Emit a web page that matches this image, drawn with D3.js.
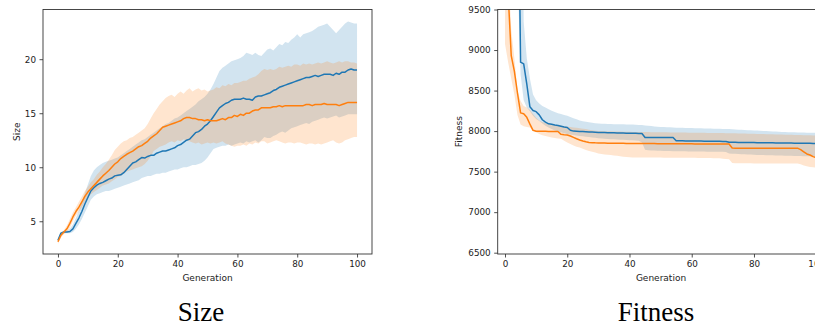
<!DOCTYPE html>
<html><head><meta charset="utf-8">
<script src="https://cdn.jsdelivr.net/npm/d3@7"></script>
<style>
html,body{margin:0;padding:0;background:#fff;}
svg{display:block;}
</style></head>
<body>
<svg id="chart" width="815" height="326"></svg>
<script>
// ---------- DATA ----------
const generations = d3.range(0, 101);
const xTicks = [0, 20, 40, 60, 80, 100];
const sizeYTicks = [5, 10, 15, 20];
const fitYTicks = [6500, 7000, 7500, 8000, 8500, 9000, 9500];
const panelTitles = ["Size", "Fitness"];
const xLabel = "Generation";
const yLabels = ["Size", "Fitness"];

// Size panel — blue series
const sizeBlueMean = [
3.25,3.9,4.0,4.0,4.05,4.3,4.8,5.3,5.9,6.6,
7.2,7.8,8.1,8.35,8.5,8.6,8.75,8.9,9.0,9.2,
9.25,9.3,9.5,9.8,10.1,10.4,10.5,10.7,10.9,10.85,
11.0,11.1,11.1,11.3,11.4,11.5,11.5,11.6,11.7,11.8,
12.0,12.1,12.3,12.5,12.6,12.9,13.2,13.3,13.5,13.8,
14.0,14.3,14.7,15.1,15.5,15.7,15.9,16.0,16.2,16.3,
16.3,16.3,16.4,16.3,16.3,16.2,16.5,16.6,16.6,16.7,
16.8,16.9,17.1,17.2,17.4,17.5,17.6,17.7,17.8,17.9,
18.0,18.1,18.2,18.3,18.3,18.4,18.5,18.4,18.5,18.6,
18.6,18.6,18.5,18.7,18.6,18.8,18.8,19.0,19.1,19.0,
19.0];
const sizeBlueHi = [
3.4,4.0,4.1,4.15,4.3,4.7,5.3,6.0,6.8,7.6,
8.4,9.2,9.7,10.0,10.2,10.4,10.5,10.6,10.7,10.8,
10.9,11.1,11.3,11.5,11.7,11.9,12.1,12.3,12.5,12.6,
12.8,13.0,13.2,13.4,13.6,13.8,14.0,14.1,14.3,14.5,
14.6,14.8,15.0,15.2,15.4,15.6,15.8,16.1,16.3,16.5,
16.8,17.2,17.7,18.3,18.9,19.2,19.4,19.6,19.8,19.9,
20.0,20.1,20.3,20.6,20.5,20.4,20.6,20.4,20.3,20.6,
20.9,21.0,20.8,21.1,21.4,21.3,21.6,21.5,21.8,22.0,
22.3,22.0,22.3,22.4,22.5,22.6,22.8,23.0,23.1,23.2,
23.3,23.0,22.7,22.4,22.7,23.0,23.3,23.5,23.4,23.3,
23.3];
const sizeBlueLo = [
3.1,3.8,3.9,3.9,3.9,4.0,4.3,4.7,5.2,5.8,
6.4,7.0,7.3,7.5,7.6,7.7,7.8,7.8,7.9,8.0,
8.1,8.2,8.3,8.4,8.5,8.6,8.7,8.8,9.0,9.1,
9.2,9.2,9.3,9.4,9.4,9.5,9.5,9.6,9.7,9.8,
9.8,9.9,10.0,10.0,10.1,10.2,10.2,10.3,10.4,10.6,
10.9,11.3,11.7,11.8,11.9,12.0,12.0,12.1,12.0,12.1,
12.2,12.3,12.2,12.4,12.3,12.4,12.5,12.3,12.5,12.8,
12.7,12.7,12.9,13.0,13.2,13.3,13.2,13.4,13.6,13.7,
13.8,13.9,14.0,14.1,14.0,14.2,14.3,14.4,14.5,14.6,
14.5,14.6,14.7,14.8,14.6,14.7,14.8,14.9,14.9,14.9,
14.9];

// Size panel — orange series
const sizeOrangeMean = [
3.1,3.7,4.0,4.3,4.8,5.4,5.9,6.3,6.8,7.3,
7.7,8.0,8.3,8.6,8.9,9.2,9.45,9.7,10.0,10.3,
10.5,10.8,11.0,11.2,11.35,11.5,11.7,11.9,12.0,12.2,
12.4,12.7,12.9,13.1,13.4,13.7,13.8,13.9,14.0,14.1,
14.2,14.3,14.5,14.6,14.6,14.5,14.5,14.4,14.4,14.3,
14.4,14.3,14.3,14.3,14.4,14.5,14.4,14.6,14.6,14.8,
14.7,14.9,14.8,15.0,15.0,15.2,15.3,15.3,15.5,15.5,
15.5,15.5,15.6,15.6,15.7,15.6,15.7,15.7,15.7,15.7,
15.7,15.7,15.7,15.8,15.8,15.7,15.8,15.8,15.8,15.9,
15.8,15.8,15.8,15.8,15.7,15.8,15.9,16.0,16.0,16.0,
16.0];
const sizeOrangeHi = [
3.3,3.9,4.2,4.6,5.2,5.8,6.3,6.8,7.3,7.8,
8.2,8.6,8.9,9.3,9.6,10.0,10.3,10.7,11.1,11.6,
11.9,12.2,12.4,12.5,12.7,12.8,13.0,13.2,13.4,13.6,
14.0,14.5,15.0,15.4,15.8,16.1,16.4,16.6,16.7,16.5,
16.8,17.0,16.8,17.1,17.3,17.0,17.2,17.3,17.1,17.2,
17.0,17.1,17.2,17.4,17.3,17.6,17.5,17.7,17.6,17.8,
17.8,17.9,18.0,18.0,18.2,18.3,18.4,18.6,18.9,19.1,
19.0,19.1,19.0,19.1,19.3,19.2,19.3,19.4,19.3,19.5,
19.5,19.4,19.6,19.5,19.6,19.5,19.6,19.7,19.6,19.7,
19.8,19.7,19.6,19.7,19.8,19.7,19.8,19.8,19.7,19.7,
19.6];
const sizeOrangeLo = [
2.9,3.5,3.8,4.0,4.4,5.0,5.5,5.9,6.3,6.8,
7.2,7.5,7.7,7.9,8.1,8.3,8.4,8.5,8.7,8.9,
9.1,9.2,9.4,9.6,9.7,9.8,9.9,10.0,10.1,10.3,
10.6,11.0,11.5,11.7,11.9,12.0,12.1,12.3,12.4,12.3,
12.5,12.4,12.6,12.5,12.4,12.3,12.2,12.3,12.1,12.2,
12.3,12.2,12.3,12.2,12.3,12.4,12.2,12.1,12.0,11.9,
12.0,12.0,12.1,12.0,12.2,12.1,12.3,12.2,12.4,12.4,
12.2,12.3,12.4,12.5,12.4,12.3,12.2,12.3,12.3,12.2,
12.3,12.3,12.2,12.1,12.2,12.2,12.1,12.2,12.1,12.2,
12.3,12.4,12.5,12.3,12.2,12.3,12.5,12.6,12.7,12.8,
12.8];

// Fitness panel — blue series
const fitBlueMean = [
13000,13000,12800,12500,12000,8850,8830,8580,8300,8255,
8240,8200,8140,8110,8090,8085,8075,8070,8060,8050,
8045,8010,8000,7998,7996,7994,7992,7990,7988,7986,
7984,7983,7982,7981,7980,7979,7978,7977,7976,7975,
7974,7973,7972,7971,7970,7922,7920,7920,7920,7920,
7920,7920,7920,7920,7920,7882,7880,7880,7879,7879,
7878,7878,7877,7877,7876,7876,7875,7875,7874,7874,
7873,7872,7862,7861,7861,7860,7860,7859,7859,7858,
7858,7857,7857,7856,7856,7855,7855,7854,7854,7853,
7853,7852,7852,7851,7851,7850,7850,7849,7849,7848,
7848];
const fitBlueHi = [
13000,13000,13000,13000,13000,13000,9350,8900,8650,8450,
8380,8340,8310,8290,8270,8250,8235,8220,8210,8200,
8190,8175,8160,8145,8130,8122,8115,8110,8104,8098,
8094,8092,8090,8088,8087,8086,8085,8084,8083,8082,
8082,8080,8078,8076,8074,8070,8066,8062,8058,8055,
8052,8050,8048,8046,8044,8042,8041,8040,8039,8038,
8037,8036,8035,8034,8033,8032,8031,8030,8029,8028,
8027,8026,8025,8022,8020,8018,8016,8014,8012,8010,
8008,8006,8004,8002,8000,7998,7996,7994,7992,7990,
7988,7987,7986,7985,7984,7983,7982,7981,7980,7979,
7978];
const fitBlueLo = [
12500,12000,11500,11000,10000,8700,8380,8290,8245,8190,
8150,8125,8095,8065,8045,8025,8008,7995,7985,7975,
7965,7958,7952,7946,7940,7935,7930,7926,7922,7918,
7912,7908,7905,7902,7900,7898,7896,7894,7892,7890,
7888,7886,7884,7882,7860,7770,7765,7762,7760,7758,
7757,7756,7755,7754,7753,7752,7751,7750,7750,7749,
7749,7748,7748,7747,7747,7746,7746,7745,7745,7744,
7744,7743,7725,7722,7720,7718,7716,7714,7712,7710,
7708,7706,7705,7704,7703,7702,7701,7700,7699,7698,
7697,7696,7695,7694,7693,7692,7691,7690,7689,7688,
7687];

// Fitness panel — orange series
const fitOrangeMean = [
11000,9700,8930,8740,8470,8225,8215,8170,8086,8010,
7998,7998,7997,7997,7996,7996,7995,7995,7960,7955,
7952,7940,7922,7905,7890,7878,7868,7860,7857,7855,
7854,7853,7852,7851,7851,7850,7850,7849,7849,7848,
7848,7848,7847,7847,7847,7847,7846,7846,7846,7845,
7845,7845,7845,7844,7844,7844,7844,7843,7843,7843,
7843,7842,7842,7842,7842,7841,7841,7841,7841,7840,
7840,7840,7840,7792,7790,7790,7790,7790,7790,7790,
7790,7790,7790,7790,7790,7790,7790,7790,7790,7790,
7790,7790,7790,7790,7790,7772,7745,7718,7705,7685,
7672];
const fitOrangeHi = [
13000,10000,9250,8900,8500,8370,8310,8290,8260,8210,
8165,8130,8112,8100,8090,8082,8076,8070,8065,8060,
8055,8050,8045,8040,8035,8030,8025,8018,8010,8005,
8002,8000,7999,7998,7997,7996,7995,7994,7993,7992,
7991,7990,7990,7989,7989,7988,7988,7987,7987,7986,
7986,7985,7985,7984,7984,7983,7983,7982,7982,7981,
7981,7980,7980,7979,7979,7978,7978,7977,7977,7976,
7976,7975,7974,7973,7972,7971,7970,7969,7968,7967,
7966,7965,7964,7963,7962,7961,7960,7959,7958,7957,
7956,7955,7954,7953,7952,7951,7950,7949,7948,7947,
7946];
const fitOrangeLo = [
9074,8850,8650,8450,8200,8080,8060,8050,8044,8010,
7985,7963,7950,7940,7930,7920,7915,7910,7905,7880,
7860,7840,7822,7808,7798,7782,7768,7755,7745,7736,
7725,7718,7712,7708,7704,7700,7695,7690,7685,7680,
7676,7675,7675,7674,7674,7674,7674,7673,7673,7673,
7673,7672,7672,7672,7672,7671,7671,7671,7671,7670,
7670,7670,7669,7669,7668,7668,7667,7666,7665,7664,
7660,7657,7654,7605,7604,7604,7603,7603,7602,7602,
7601,7601,7600,7600,7600,7600,7600,7600,7600,7600,
7600,7600,7600,7600,7600,7590,7575,7565,7558,7553,
7550];

const blue = "#1f77b4", orange = "#ff7f0e";

// ---------- DRAW ----------
const svg = d3.select("#chart");
const FONT = "'DejaVu Sans', sans-serif";

function panel(cfg) {
  const x = d3.scaleLinear().domain(cfg.xDomain).range([cfg.left, cfg.right]);
  const y = d3.scaleLinear().domain(cfg.yDomain).range([cfg.bottom, cfg.top]);
  const g = svg.append("g");
  const clipId = "clip" + cfg.id;
  svg.append("clipPath").attr("id", clipId).append("rect")
    .attr("x", cfg.left).attr("y", cfg.top)
    .attr("width", cfg.right - cfg.left).attr("height", cfg.bottom - cfg.top);
  const plot = g.append("g").attr("clip-path", `url(#${clipId})`);

  // bands first
  cfg.series.forEach(s => {
    const area = d3.area()
      .x((d, i) => x(generations[i]))
      .y0((d, i) => y(s.lo[i]))
      .y1((d, i) => y(s.hi[i]));
    plot.append("path").datum(s.mean).attr("d", area)
      .attr("fill", s.color).attr("fill-opacity", 0.2).attr("stroke", "none");
  });
  // mean lines on top
  cfg.series.forEach(s => {
    const line = d3.line().x((d, i) => x(generations[i])).y(d => y(d));
    plot.append("path").datum(s.mean).attr("d", line)
      .attr("fill", "none").attr("stroke", s.color).attr("stroke-width", 1.5)
      .attr("stroke-linejoin", "round").attr("stroke-linecap", "butt");
  });

  // axes
  const xa = g.append("g").attr("transform", `translate(0,${cfg.bottom})`)
    .call(d3.axisBottom(x).tickValues(xTicks).tickSize(3.5).tickPadding(3.5).tickFormat(d3.format("d")));
  const ya = g.append("g").attr("transform", `translate(${cfg.left},0)`)
    .call(d3.axisLeft(y).tickValues(cfg.yTicks).tickSize(3.5).tickPadding(3.5).tickFormat(d3.format("d")));
  [xa, ya].forEach(a => {
    a.select(".domain").remove();
    a.selectAll(".tick line").attr("stroke", "#222").attr("stroke-width", 0.8);
    a.selectAll(".tick text").attr("fill", "#222").style("font-family", FONT).style("font-size", "8.8px");
  });
  // spines
  g.append("rect").attr("x", cfg.left).attr("y", cfg.top)
    .attr("width", cfg.right - cfg.left).attr("height", cfg.bottom - cfg.top)
    .attr("fill", "none").attr("stroke", "#333").attr("stroke-width", 0.9);

  // labels
  g.append("text").attr("x", (cfg.left + cfg.right) / 2).attr("y", 280.5)
    .attr("text-anchor", "middle").attr("fill", "#222")
    .style("font-family", FONT).style("font-size", "9px").text(xLabel);
  g.append("text").attr("transform", `translate(${cfg.yLabelX},${(cfg.top + cfg.bottom) / 2}) rotate(-90)`)
    .attr("text-anchor", "middle").attr("fill", "#222")
    .style("font-family", FONT).style("font-size", "9px").text(cfg.yLabel);
  // title
  svg.append("text").attr("x", cfg.titleX).attr("y", 321)
    .attr("text-anchor", "middle").attr("fill", "#000")
    .style("font-family", "'Liberation Serif', 'Times New Roman', serif").style("font-size", "27px")
    .text(cfg.title);
}

panel({
  id: 1, left: 43, right: 372, top: 9.5, bottom: 254,
  xDomain: [-5, 105], yDomain: [1.97, 24.6], yTicks: sizeYTicks,
  yLabel: yLabels[0], yLabelX: 19.5, title: panelTitles[0], titleX: 201,
  series: [
    {color: blue, mean: sizeBlueMean, lo: sizeBlueLo, hi: sizeBlueHi},
    {color: orange, mean: sizeOrangeMean, lo: sizeOrangeLo, hi: sizeOrangeHi}
  ]
});
panel({
  id: 2, left: 497.7, right: 824.3, top: 9.5, bottom: 254,
  xDomain: [-2.35, 102.6], yDomain: [6484, 9500], yTicks: fitYTicks,
  yLabel: yLabels[1], yLabelX: 462.3, title: panelTitles[1], titleX: 656,
  series: [
    {color: blue, mean: fitBlueMean, lo: fitBlueLo, hi: fitBlueHi},
    {color: orange, mean: fitOrangeMean, lo: fitOrangeLo, hi: fitOrangeHi}
  ]
});
</script>
</body></html>
